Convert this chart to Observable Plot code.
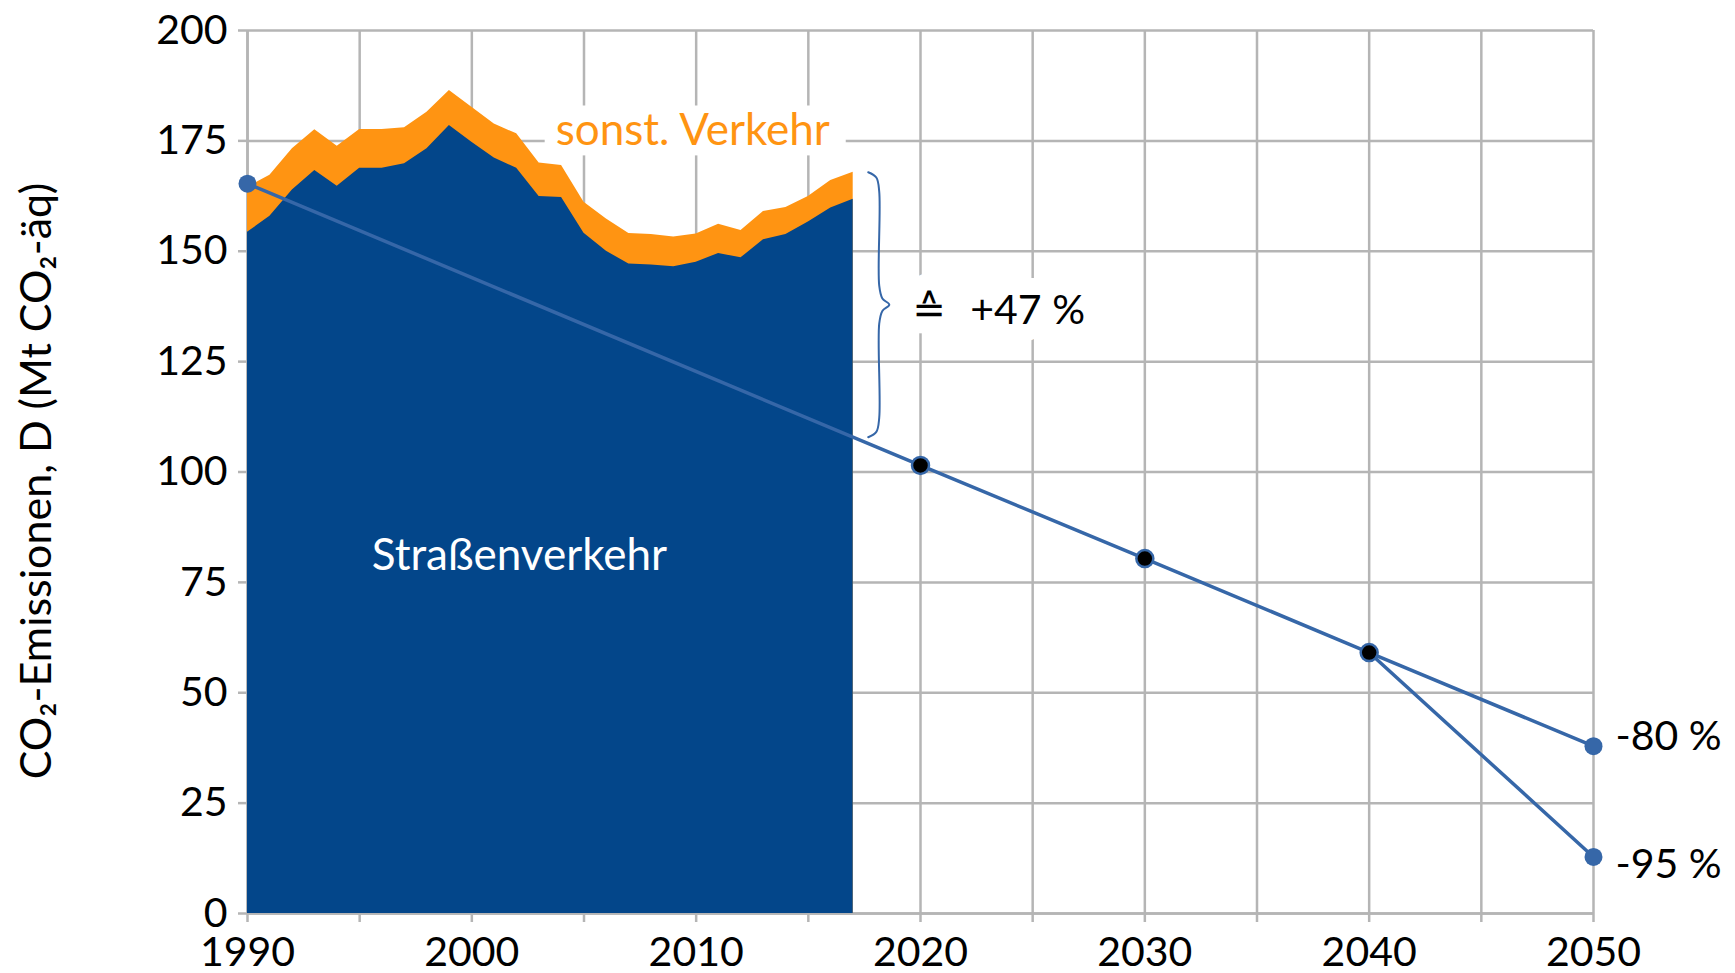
<!DOCTYPE html>
<html>
<head>
<meta charset="utf-8">
<script src="https://cdn.jsdelivr.net/npm/d3@7"></script>
<script src="https://cdn.jsdelivr.net/npm/@observablehq/plot@0.6"></script>
<style>
  html, body { margin: 0; padding: 0; background: #fff; }
  #chart { width: 1735px; height: 973px; }
</style>
</head>
<body>
<div id="chart"></div>
<script>
// ---- data ----
const years = d3.range(1990, 2018);
const road = [154.3, 157.9, 163.9, 168.3, 164.7, 168.8, 168.8, 169.8, 173.2, 178.5,
              174.7, 171.1, 168.8, 162.4, 162.2, 154.1, 150.0, 147.1, 146.9, 146.5,
              147.5, 149.5, 148.5, 152.6, 153.8, 156.6, 159.8, 161.8];
const other = [10.2, 9.3, 9.3, 9.2, 9.1, 8.8, 8.8, 8.2, 8.3, 7.9,
               7.9, 7.7, 7.8, 7.6, 7.2, 7.0, 7.3, 6.9, 6.9, 6.7,
               6.4, 6.6, 6.2, 6.4, 6.1, 5.8, 6.2, 6.1];
const targetYears = [1990, 2020, 2030, 2040, 2050];
const target80 = [165.3, 101.5, 80.4, 59.1, 37.9];
const target95Years = [2040, 2050];
const target95 = [59.1, 12.8];
const endLabels = ["-80 %", "-95 %"];
const seriesLabels = ["Straßenverkehr", "sonst. Verkehr"];
const yLabel = "CO₂-Emissionen, D (Mt CO₂-äq)";
const changeLabel = "+47 %";
const xTicks = d3.range(1990, 2051, 5);
const yTicks = d3.range(0, 201, 25);

// ---- derived tables ----
const hist = years.map((yr, i) => ({year: yr, road: road[i], total: road[i] + other[i]}));
const line80 = targetYears.map((yr, i) => ({year: yr, v: target80[i]}));
const line95 = target95Years.map((yr, i) => ({year: yr, v: target95[i]}));
const dotsBlue = [line80[0], line80[4], line95[1]];
const dotsBlack = line80.slice(1, 4);

// brace between last total and target path in last historic year
const lastYear = years[years.length - 1];
const braceTop = hist[hist.length - 1].total;
const braceBottom = d3.scaleLinear(targetYears, target80)(lastYear);
const braceMid = (braceTop + braceBottom) / 2;
const bx = lastYear + 0.67;
const braceShape = [[0, 0], [0.36, -1.2], [0.49, -4.4]];
const bracePts = [
  ...braceShape.map(([dx, dy]) => ({year: bx + dx, v: braceTop + dy})),
  {year: bx + 0.49, v: braceMid + 4.3},
  {year: bx + 0.63, v: braceMid + 1.4},
  {year: bx + 0.94, v: braceMid},
  {year: bx + 0.63, v: braceMid - 1.4},
  {year: bx + 0.49, v: braceMid - 4.3},
  ...braceShape.slice().reverse().map(([dx, dy]) => ({year: bx + dx, v: braceBottom - dy}))
];

// label anchors
const otherAnchor = {x: 2003.74, y: 177.3};
const otherBox = [{x1: otherAnchor.x - 0.47, x2: otherAnchor.x + 12.95, y1: otherAnchor.y - 5.7, y2: otherAnchor.y + 5.6}];

const BLUE = "#03468a";
const ORANGE = "#ff9412";
const LINE = "#3667a8";
const GRID = "#b5b5b5";
const FONT = "Lato, 'Open Sans', sans-serif";
const halo = {fill: "white", stroke: "white", strokeLinejoin: "round"};

const chart = Plot.plot({
  width: 1735,
  height: 973,
  marginLeft: 247,
  marginRight: 142,
  marginTop: 30,
  marginBottom: 60,
  style: {fontFamily: FONT, fontSize: "41px", color: "black", background: "white", overflow: "visible"},
  x: {domain: [1990, 2050]},
  y: {domain: [0, 200]},
  marks: [
    Plot.gridX(xTicks, {stroke: GRID, strokeOpacity: 1, strokeWidth: 2.5}),
    Plot.gridY(yTicks, {stroke: GRID, strokeOpacity: 1, strokeWidth: 2.5}),
    Plot.ruleX([1990], {stroke: GRID, strokeWidth: 2.5}),
    Plot.ruleY([0], {stroke: GRID, strokeWidth: 2.5}),
    Plot.axisX({ticks: xTicks, tickFormat: d => d % 10 ? "" : String(d), tickSize: 9, tickPadding: 14,
                stroke: GRID, strokeWidth: 2.5, fill: "black", fontSize: 41, label: null}),
    Plot.axisY({ticks: yTicks, tickFormat: d => String(d), tickSize: 9, tickPadding: 11,
                stroke: GRID, strokeWidth: 2.5, fill: "black", fontSize: 41, label: null}),
    // label backgrounds (white boxes cutting the grid)
    Plot.rect(otherBox, {x1: "x1", x2: "x2", y1: "y1", y2: "y2", fill: "white"}),
    Plot.text([changeLabel], {x: 2022.22, y: 136.6, text: d => d, textAnchor: "start", lineAnchor: "middle",
               ...halo, strokeWidth: 34, fontSize: 41}),
    Plot.text(["≙"], {x: 2020.39, y: 136.6, text: d => d, lineAnchor: "middle",
               ...halo, strokeWidth: 34, fontSize: 40, fontFamily: "DejaVu Sans"}),
    // areas
    Plot.areaY(hist, {x: "year", y1: 0, y2: "total", fill: ORANGE}),
    Plot.areaY(hist, {x: "year", y1: 0, y2: "road", fill: BLUE}),
    // target paths
    Plot.line(line80, {x: "year", y: "v", stroke: LINE, strokeWidth: 3.5}),
    Plot.line(line95, {x: "year", y: "v", stroke: LINE, strokeWidth: 3.5}),
    Plot.dot(dotsBlue, {x: "year", y: "v", r: 9, fill: LINE}),
    Plot.dot(dotsBlack, {x: "year", y: "v", r: 8.5, fill: "black", stroke: LINE, strokeWidth: 2.5}),
    // brace
    Plot.line(bracePts, {x: "year", y: "v", stroke: LINE, strokeWidth: 2, curve: "catmull-rom"}),
    // texts
    Plot.text([seriesLabels[0]], {x: 1995.54, y: 80.9, text: d => d, textAnchor: "start", lineAnchor: "middle",
               fill: "white", fontSize: 44}),
    Plot.text([seriesLabels[1]], {x: otherAnchor.x, y: otherAnchor.y, text: d => d, textAnchor: "start", lineAnchor: "middle",
               fill: ORANGE, fontSize: 44}),
    Plot.text([changeLabel], {x: 2022.22, y: 136.6, text: d => d, textAnchor: "start", lineAnchor: "middle",
               fill: "black", fontSize: 41}),
    Plot.text(["≙"], {x: 2020.39, y: 136.6, text: d => d, lineAnchor: "middle",
               fill: "black", fontSize: 40, fontFamily: "DejaVu Sans"}),
    Plot.text([{year: 2050, v: target80[4], t: endLabels[0]}], {x: "year", y: "v", text: "t", dx: 22, dy: -9,
               textAnchor: "start", lineAnchor: "middle", fill: "black", fontSize: 41}),
    Plot.text([{year: 2050, v: target95[1], t: endLabels[1]}], {x: "year", y: "v", text: "t", dx: 22, dy: 8,
               textAnchor: "start", lineAnchor: "middle", fill: "black", fontSize: 41}),
    Plot.text([yLabel], {frameAnchor: "left", text: d => d, rotate: -90, dx: -210, dy: 9,
               textAnchor: "middle", lineAnchor: "middle", fill: "black", fontSize: 43})
  ]
});
document.getElementById("chart").appendChild(chart);
</script>
</body>
</html>
